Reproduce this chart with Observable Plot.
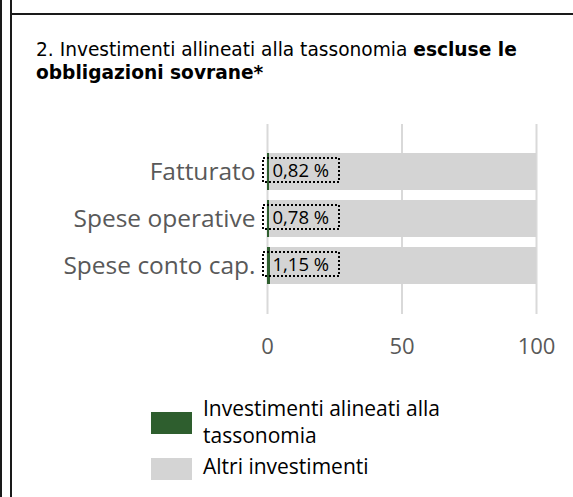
<!DOCTYPE html>
<html>
<head>
<meta charset="utf-8">
<script src="https://cdn.jsdelivr.net/npm/d3@7"></script>
<script src="https://cdn.jsdelivr.net/npm/@observablehq/plot@0.6"></script>
<style>
  html, body { margin: 0; padding: 0; background: #fff; }
  body { width: 573px; height: 497px; position: relative; overflow: hidden; }
  .vline { position: absolute; top: 0; bottom: 0; width: 2px; background: #1a1a1a; }
  .hline { position: absolute; left: 10px; right: 0; top: 13px; height: 2px; background: #1a1a1a; }
  #title { position: absolute; left: 36px; top: 38px; width: 530px; font-family: "DejaVu Sans", sans-serif; font-size: 18.6px; line-height: 23px; color: #000; }
  #chart { position: absolute; left: 0; top: 100px; }
  #legend { position: absolute; left: 0; top: 0; font-family: "Open Sans", sans-serif; color: #000; }
  .sw { position: absolute; width: 41px; height: 22px; }
  .lt { position: absolute; left: 203px; width: 300px; font-size: 21px; line-height: 27px; }
</style>
</head>
<body>
<div class="vline" style="left:0px"></div>
<div class="vline" style="left:10px"></div>
<div class="hline"></div>
<div id="title"><span>2. Investimenti allineati alla tassonomia </span><b>escluse le</b><br><b>obbligazioni sovrane*</b></div>
<div id="chart"></div>
<div id="legend"></div>
<script>
// Data
const categories = ["Fatturato", "Spese operative", "Spese conto cap."];
const alignedValues = [0.82, 0.78, 1.15];
const otherValues = [99.18, 99.22, 98.85];
const valueLabels = ["0,82 %", "0,78 %", "1,15 %"];
const seriesNames = ["Investimenti alineati alla tassonomia", "Altri investimenti"];
const seriesColors = ["#2e5e2e", "#d4d4d4"];
const xTicks = [0, 50, 100];

const rows = [];
categories.forEach((c, i) => {
  rows.push({cat: c, series: seriesNames[0], value: alignedValues[i]});
  rows.push({cat: c, series: seriesNames[1], value: otherValues[i]});
});
const labelRows = categories.map((c, i) => ({cat: c, label: valueLabels[i], zero: 0}));

const plot = Plot.plot({
  width: 573,
  height: 264,
  marginLeft: 267,
  marginRight: 37,
  marginTop: 24,
  marginBottom: 50,
  style: {fontFamily: "Open Sans, sans-serif", background: "transparent", overflow: "visible"},
  x: {domain: [0, 100], label: null},
  y: {domain: categories, paddingInner: 0.21, paddingOuter: 0.61, label: null},
  color: {domain: seriesNames, range: seriesColors},
  marks: [
    Plot.ruleX(xTicks, {stroke: "#d9d9d9", strokeWidth: 2}),
    Plot.barX(rows, {x: "value", y: "cat", fill: "series"}),
    Plot.barX(labelRows, {x1: "zero", x2: "zero", y: "cat", insetLeft: -4, insetRight: -72, insetTop: 5, insetBottom: 8,
      fill: "none", stroke: "#000", strokeWidth: 2, strokeDasharray: "2 2"}),
    Plot.text(labelRows, {x: "zero", y: "cat", text: "label", textAnchor: "start", dx: 5, dy: -1, fontSize: 18.5, fill: "#000"}),
    Plot.axisX(xTicks, {tickSize: 0, tickPadding: 24, fontSize: 22, color: "#595959", label: null}),
    Plot.axisY(categories, {tickSize: 0, tickPadding: 12, fontSize: 24.5, color: "#595959", label: null})
  ]
});
document.getElementById("chart").appendChild(plot);

// Legend
const legend = document.getElementById("legend");
const swTops = [412, 458];
const txtTops = [395, 453];
seriesNames.forEach((name, i) => {
  const sw = document.createElement("div");
  sw.className = "sw";
  sw.style.left = "151px";
  sw.style.top = swTops[i] + "px";
  sw.style.background = seriesColors[i];
  legend.appendChild(sw);
  const t = document.createElement("div");
  t.className = "lt";
  t.style.top = txtTops[i] + "px";
  t.textContent = name;
  legend.appendChild(t);
});
</script>
</body>
</html>
